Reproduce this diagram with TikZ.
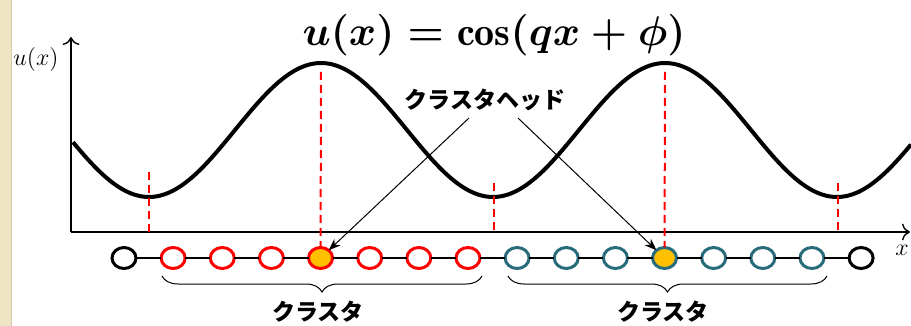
\documentclass[tikz,border=0pt]{standalone}
\usepackage{amsmath,amssymb}
\usepackage{fontspec}
\newfontfamily\jpfont{Noto Sans CJK JP}
\usepackage{xcolor}
\usepackage{tikz}
\usetikzlibrary{shapes.geometric, arrows.meta, positioning, decorations.pathreplacing}

\definecolor{clteal}{RGB}{40,108,124}
\definecolor{clorange}{RGB}{255,192,0}
\definecolor{clbeige}{RGB}{239,228,196}
\definecolor{clbeigeline}{RGB}{216,204,168}

\begin{document}
\begin{tikzpicture}[
  x=0.5pt, y=-0.5pt,
  node distance=12.57pt,
  site/.style={ellipse, draw, line width=1.5pt, outer sep=0pt, inner sep=0pt,
               minimum width=12pt, minimum height=10.5pt},
  endsite/.style={site, draw=black},
  redsite/.style={site, draw=red},
  tealsite/.style={site, draw=clteal},
  redhead/.style={redsite, fill=clorange},
  tealhead/.style={tealsite, fill=clorange},
  bond/.style={line width=0.6pt},
  guide/.style={draw=red, line width=1pt, dash pattern=on 4pt off 2.5pt},
  wave/.style={line width=2pt},
  axis/.style={line width=0.7pt, -{To[length=4pt]}},
  brc/.style={decorate, decoration={brace, mirror, amplitude=8pt}, line width=0.5pt},
  jlabel/.style={font=\jpfont\bfseries\fontsize{11.5}{14}\selectfont},
  formula/.style={font=\fontsize{20}{24}\selectfont},
  arrow/.style={-{Stealth[length=6pt]}, line width=0.5pt}
]
\useasboundingbox (0,0) rectangle (911,326);
% slide edge
\fill[clbeige] (0,0) rectangle (11,326);
\draw[clbeigeline, line width=0.6pt] (11.5,0) -- (11.5,326);

% formula and axes
\node[formula] (title) at (494,35) {$\boldsymbol{u(x)=\cos(qx+\phi)}$};
\draw[axis] (71,232) -- (71,37);
\draw[axis] (71,232) -- (910,232);
\node (ulabel) at (36,60) {\fontsize{12}{14}\selectfont $u(x)$};
\node (xlabel) at (902,250) {\fontsize{12}{14}\selectfont $x$};

% the wave
\draw[wave] plot[domain=73:911, samples=160, smooth] (\x, {130-67*cos((\x-321)*1.04651)});

% chain of sites
\node[endsite]  (c0) at (124,258) {};
\node[redsite,  right=of c0]  (c1)  {};
\node[redsite,  right=of c1]  (c2)  {};
\node[redsite,  right=of c2]  (c3)  {};
\node[redhead,  right=of c3]  (c4)  {};
\node[redsite,  right=of c4]  (c5)  {};
\node[redsite,  right=of c5]  (c6)  {};
\node[redsite,  right=of c6]  (c7)  {};
\node[tealsite, right=of c7]  (c8)  {};
\node[tealsite, right=of c8]  (c9)  {};
\node[tealsite, right=of c9]  (c10) {};
\node[tealhead, right=of c10] (c11) {};
\node[tealsite, right=of c11] (c12) {};
\node[tealsite, right=of c12] (c13) {};
\node[tealsite, right=of c13] (c14) {};
\node[endsite,  right=of c14] (c15) {};

\draw[bond] (c0)  -- (c1);
\draw[bond] (c1)  -- (c2);
\draw[bond] (c2)  -- (c3);
\draw[bond] (c3)  -- (c4);
\draw[bond] (c4)  -- (c5);
\draw[bond] (c5)  -- (c6);
\draw[bond] (c6)  -- (c7);
\draw[bond] (c7)  -- (c8);
\draw[bond] (c8)  -- (c9);
\draw[bond] (c9)  -- (c10);
\draw[bond] (c10) -- (c11);
\draw[bond] (c11) -- (c12);
\draw[bond] (c12) -- (c13);
\draw[bond] (c13) -- (c14);
\draw[bond] (c14) -- (c15);

% peaks and troughs
\coordinate (peakA) at (321,72);
\coordinate (peakB) at (665,72);
\draw[guide] (peakA) -- (c4.north);
\draw[guide] (peakB) -- (c11.north);
\draw[guide] (149,172) -- (149,232);
\draw[guide] (494,183) -- (494,232);
\draw[guide] (838,183) -- (838,232);

% clusters
\draw[brc] (162,276) -- (482,276);
\draw[brc] (508,276) -- (827,276);
\node[jlabel] (clusterA) at (318,312) {クラスタ};
\node[jlabel] (clusterB) at (663,312) {クラスタ};

\node[jlabel] (head) at (485,100) {クラスタヘッド};
\draw[arrow] ([xshift=-8pt]head.south) -- (c4);
\draw[arrow] ([xshift=16.5pt]head.south) -- (c11);
\end{tikzpicture}
\end{document}
